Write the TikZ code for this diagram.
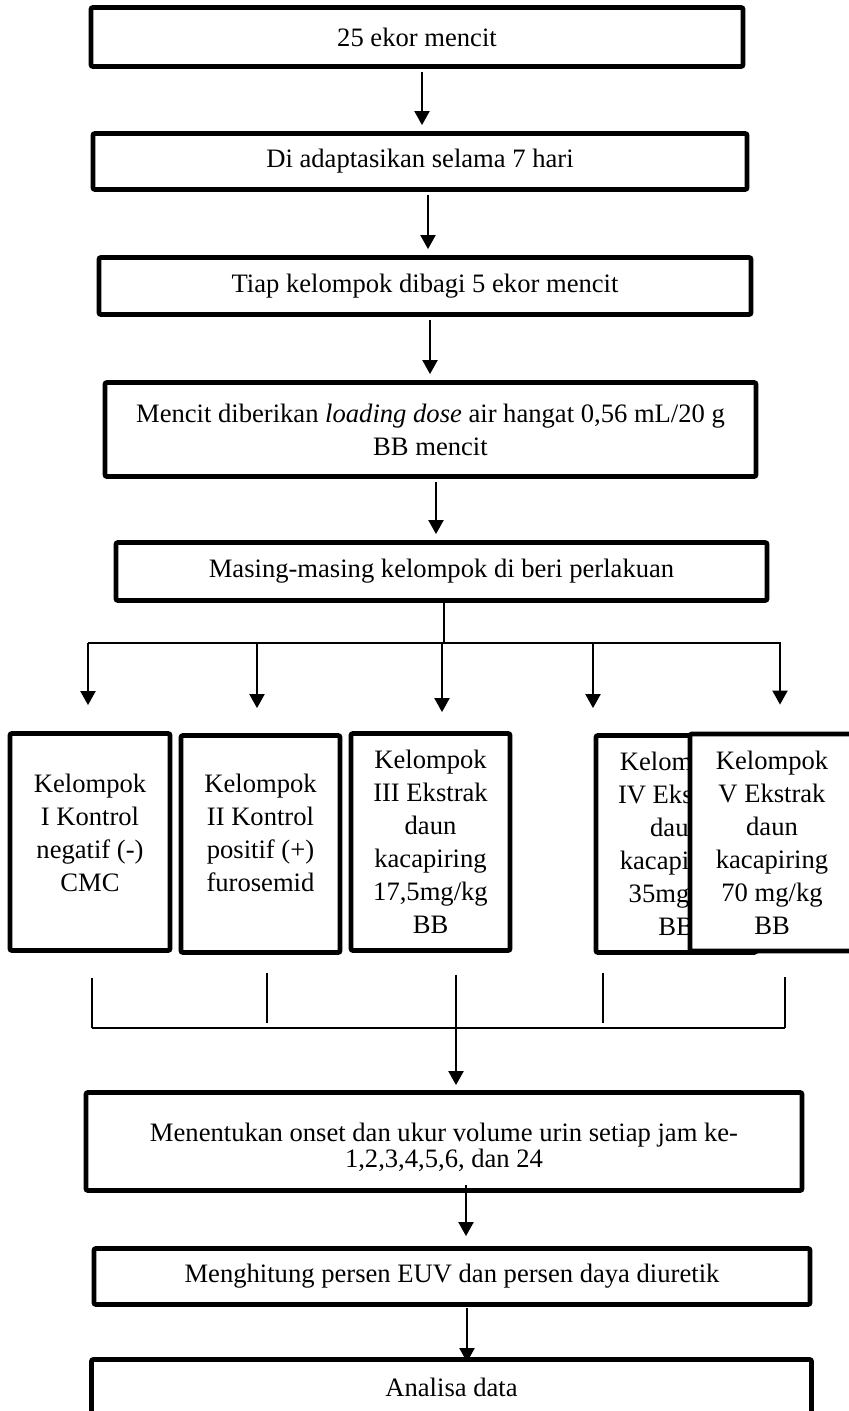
\documentclass[tikz,border=0pt]{standalone}
\usepackage{fontspec}
\setmainfont{Liberation Serif}
\usepackage{tikz}
\usetikzlibrary{arrows.meta,positioning,calc}

\begin{document}
\begin{tikzpicture}[x=0.5pt,y=-0.5pt,>={Triangle[length=7pt,width=7.5pt]},
  font=\fontsize{13.3}{16.5}\selectfont,
  flowbox/.style={draw,line width=2.4pt,rounded corners=1pt,inner sep=0pt,align=center},
  groupbox/.style={flowbox,fill=white,minimum width=80pt,minimum height=108.5pt},
  arr/.style={->,line width=1pt,shorten <=1.5pt,shorten >=3pt},
  link/.style={line width=0.6pt}]
  \useasboundingbox (0,0) rectangle (849,1411);
  \clip (0,0) rectangle (849,1411);
  % main chain
  \node[flowbox,minimum width=326pt,minimum height=29.5pt] (b1) at (417,37) {25 ekor mencit};
  \node[flowbox,minimum width=327pt,minimum height=28pt] (b2) at (420,161.5) {Di adaptasikan selama 7 hari};
  \node[flowbox,minimum width=326pt,minimum height=28.5pt] (b3) at (425,286) {Tiap kelompok dibagi 5 ekor mencit};
  \node[flowbox,minimum width=325.5pt,minimum height=47pt] (b4) at (430.5,429.5)
    {Mencit diberikan \textit{loading dose} air hangat 0,56 mL/20 g\\ BB mencit};
  \node[flowbox,minimum width=325.5pt,minimum height=29pt] (b5) at (441.5,571.5) {Masing-masing kelompok di beri perlakuan};
  \draw[arr] ([xshift=2.5pt]b1.south) -- ([xshift=2.5pt]b1.south |- b2.north);
  \draw[arr] ([xshift=4pt]b2.south) -- ([xshift=4pt]b2.south |- b3.north);
  \draw[arr] ([xshift=2.5pt]b3.south) -- ([xshift=2.5pt]b3.south |- b4.north);
  \draw[arr] ([xshift=2.75pt]b4.south) -- ([xshift=2.75pt]b4.south |- b5.north);
  % groups
  \node[groupbox] (g1) at (90,842) {Kelompok\\ I Kontrol\\ negatif (-)\\ CMC\rule[-9pt]{0pt}{0pt}};
  \node[groupbox,minimum width=79.5pt] (g2) at (260.5,844) {Kelompok\\ II Kontrol\\ positif (+)\\ furosemid\rule[-11pt]{0pt}{0pt}};
  \node[groupbox,minimum width=79.5pt] (g3) at (430.5,842) {Kelompok\\ III Ekstrak\\ daun\\ kacapiring\\ 17,5mg/kg\\ BB};
  \node[groupbox] (g4) at (676,844) {Kelompok\\ IV Ekstrak\\ daun\\ kacapiring\\ 35mg/kg\\ BB};
  \node[groupbox,minimum width=82pt] (g5) at (772,842.5) {Kelompok\\ V Ekstrak\\ daun\\ kacapiring\\ 70 mg/kg\\ BB};
  % fork
  \draw[link] ([xshift=1.25pt]b5.south) -- ++(0,40) coordinate (fork);
  \draw[link] ([xshift=-1pt]g1.north |- fork) -- ([xshift=4.5pt]g5.north |- fork);
  \foreach \g/\dx/\gap in {g1/-1/13,g2/-1.75/12.5,g3/5.75/9.5,g4/-41.5/12.5,g5/4/13.5}
    \draw[arr,shorten <=0pt,shorten >=\gap pt] ([xshift=\dx pt]\g.north |- fork) -- ([xshift=\dx pt]\g.north);
  % join
  \coordinate (join) at ([xshift=12.75pt,yshift=-37.5pt]g3.south);
  \foreach \g/\dx/\gap/\cut in {g1/1/12.5/0,g2/3.25/9/2.5,g4/-36.5/9/2.5,g5/6.5/12/0}
    \draw[link,shorten >=\cut pt] ([xshift=\dx pt,yshift=-\gap pt]\g.south) -- ([xshift=\dx pt]\g.south |- join);
  \draw[link] ([xshift=1pt]g1.south |- join) -- ([xshift=6.5pt]g5.south |- join);
  % tail
  \node[flowbox,minimum width=358pt,minimum height=49pt,font=\fontsize{13.3}{13}\selectfont] (b6) at (444,1141.5)
    {\rule{0pt}{15pt}Menentukan onset dan ukur volume urin setiap jam ke-\\ 1,2,3,4,5,6, dan 24};
  \node[flowbox,minimum width=358pt,minimum height=28pt] (b7) at (452,1276.5) {Menghitung persen EUV dan persen daya diuretik};
  \node[flowbox,minimum width=360pt,minimum height=27.5pt] (b8) at (451.5,1387) {Analisa data};
  \draw[arr,shorten <=0pt,shorten >=2.5pt] ([xshift=12.75pt,yshift=-11pt]g3.south) -- ([xshift=12.75pt]g3.south |- b6.north);
  \draw[arr,shorten <=-4pt,shorten >=5pt] ([xshift=11pt]b6.south) -- ([xshift=11pt]b6.south |- b7.north);
  \draw[arr,shorten <=0.5pt,shorten >=-2.5pt] ([xshift=7.5pt]b7.south) -- ([xshift=7.5pt]b7.south |- b8.north);
\end{tikzpicture}
\end{document}
